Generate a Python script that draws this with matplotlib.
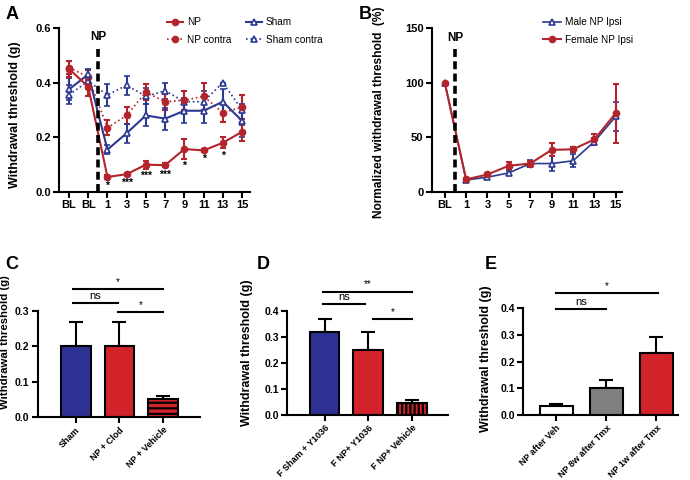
import matplotlib
matplotlib.use('Agg')
import matplotlib.pyplot as plt
from matplotlib.lines import Line2D
import numpy as np

plt.rcParams['font.family'] = ['Liberation Sans', 'DejaVu Sans']
plt.rcParams['font.weight'] = 'bold'
plt.rcParams['hatch.linewidth'] = 1.6

RED = '#B3242C'
BLUE = '#2B3990'
BAR_BLUE = '#2E3192'
BAR_RED = '#D2232A'
GRAY = '#7F7F7F'

# ---- Panel A data ----
a_labels = ['BL', 'BL', '1', '3', '5', '7', '9', '11', '13', '15']
np_mean = [0.45, 0.385, 0.055, 0.065, 0.100, 0.098, 0.157, 0.152, 0.180, 0.220]
np_err = [0.030, 0.035, 0.006, 0.005, 0.015, 0.008, 0.035, 0.006, 0.020, 0.035]
np_contra_mean = [0.455, 0.420, 0.235, 0.280, 0.365, 0.330, 0.335, 0.350, 0.290, 0.310]
np_contra_err = [0.025, 0.025, 0.028, 0.030, 0.030, 0.030, 0.035, 0.050, 0.035, 0.045]
sham_mean = [0.375, 0.430, 0.155, 0.215, 0.280, 0.268, 0.297, 0.297, 0.330, 0.260]
sham_err = [0.040, 0.020, 0.015, 0.035, 0.040, 0.040, 0.045, 0.045, 0.045, 0.060]
sham_contra_mean = [0.355, 0.405, 0.355, 0.390, 0.350, 0.370, 0.330, 0.330, 0.400, 0.300]
sham_contra_err = [0.035, 0.020, 0.040, 0.035, 0.030, 0.030, 0.040, 0.040, 0.000, 0.055]
a_stars = ['', '', '*', '***', '***', '***', '*', '*', '*', '']

# ---- Panel B data ----
b_labels = ['BL', '1', '3', '5', '7', '9', '11', '13', '15']
male_mean = [100, 11, 13.5, 17.5, 26, 26, 28.5, 46, 69]
male_err = [0, 1, 1.5, 2, 3, 7, 6, 3, 13]
female_mean = [100, 11.5, 16, 24, 26, 38.5, 39, 48, 72]
female_err = [0, 1, 1.5, 3, 2, 6, 2.5, 5, 27]

# ---- Panel C/D/E data ----
c_labels = ['Sham', 'NP + Clod', 'NP + Vehicle']
c_mean = [0.200, 0.200, 0.050]
c_err = [0.070, 0.070, 0.010]
d_labels = ['F Sham + Y1036', 'F NP+ Y1036', 'F NP+ Vehicle']
d_mean = [0.320, 0.250, 0.048]
d_err = [0.050, 0.070, 0.010]
e_labels = ['NP after Veh', 'NP 8w after Tmx', 'NP 1w after Tmx']
e_mean = [0.035, 0.100, 0.233]
e_err = [0.008, 0.030, 0.060]

fig = plt.figure(figsize=(6.9, 4.8), dpi=100)


def prism(ax):
    for s in ['top', 'right']:
        ax.spines[s].set_visible(False)
    for s in ['left', 'bottom']:
        ax.spines[s].set_linewidth(1.5)
    ax.tick_params(width=1.5, length=4, labelsize=8, pad=2)
    for t in ax.get_xticklabels() + ax.get_yticklabels():
        t.set_fontweight('bold')


def np_marker(ax, x, ytop, ytext):
    ax.plot([x, x], [0, ytop], color='black', lw=2.6, ls=(0, (2.2, 1.2)), zorder=5)
    ax.text(x, ytext, 'NP', ha='center', va='center', fontsize=8.5, fontweight='bold')


# ================= A =================
axA = fig.add_axes([0.0855, 0.600, 0.277, 0.342])
xa = np.arange(len(a_labels))
ek = dict(capsize=2.5, capthick=1.5, elinewidth=1.5)
axA.errorbar(xa, sham_contra_mean, yerr=sham_contra_err, color=BLUE, ls=':', lw=1.2,
             marker='^', ms=4.5, mfc='white', mec=BLUE, mew=1.2, **ek)
axA.errorbar(xa, np_contra_mean, yerr=np_contra_err, color=RED, ls=':', lw=1.2,
             marker='o', ms=4.5, **ek)
axA.errorbar(xa, sham_mean, yerr=sham_err, color=BLUE, ls='-', lw=1.5,
             marker='^', ms=4.5, mfc='white', mec=BLUE, mew=1.2, **ek)
axA.errorbar(xa, np_mean, yerr=np_err, color=RED, ls='-', lw=1.5,
             marker='o', ms=4.5, **ek)
for x, m, e, s in zip(xa, np_mean, np_err, a_stars):
    if s:
        axA.text(x, m - e - 0.008, s, ha='center', va='top', fontsize=7.5, fontweight='bold')
axA.set_xlim(-0.52, 9.42)
axA.set_ylim(0, 0.6)
axA.set_yticks([0.0, 0.2, 0.4, 0.6])
axA.set_yticklabels(['0.0', '0.2', '0.4', '0.6'])
axA.set_xticks(xa)
axA.set_xticklabels(a_labels)
axA.set_ylabel('Withdrawal threshold (g)', fontsize=9, fontweight='bold')
axA.yaxis.set_label_coords(-0.2, 0.47)
np_marker(axA, 1.5, 0.527, 0.567)
prism(axA)
h = [Line2D([], [], color=RED, lw=1.5, marker='o', ms=4.5),
     Line2D([], [], color=RED, lw=1.2, ls=':', marker='o', ms=4.5),
     Line2D([], [], color=BLUE, lw=1.5, marker='^', ms=4.5, mfc='white', mew=1.2),
     Line2D([], [], color=BLUE, lw=1.2, ls=':', marker='^', ms=4.5, mfc='white', mew=1.2)]
leg = axA.legend(h, ['NP', 'NP contra', 'Sham', 'Sham contra'], ncol=2, frameon=False,
                 loc='upper left', bbox_to_anchor=(0.52, 1.12), fontsize=7.2,
                 handlelength=1.6, columnspacing=1.4, labelspacing=0.75, handletextpad=0.4)
for t in leg.get_texts():
    t.set_fontweight('normal')

# ================= B =================
axB = fig.add_axes([0.626, 0.600, 0.275, 0.342])
xb = np.arange(len(b_labels))
axB.errorbar(xb, male_mean, yerr=male_err, color=BLUE, ls='-', lw=1.2,
             marker='^', ms=4, mfc='white', mec=BLUE, mew=1.2, **ek)
axB.errorbar(xb, female_mean, yerr=female_err, color=RED, ls='-', lw=1.5,
             marker='o', ms=4.5, **ek)
axB.set_xlim(-0.6, 8.28)
axB.set_ylim(0, 150)
axB.set_yticks([0, 50, 100, 150])
axB.set_xticks(xb)
axB.set_xticklabels(b_labels)
axB.set_ylabel('Normalized withdrawal threshold  (%)', fontsize=8.6, fontweight='bold')
axB.yaxis.set_label_coords(-0.245, 0.485)
np_marker(axB, 0.5, 131, 141)
prism(axB)
hb = [Line2D([], [], color=BLUE, lw=1.2, marker='^', ms=4, mfc='white', mew=1.2),
      Line2D([], [], color=RED, lw=1.5, marker='o', ms=4.5)]
legB = axB.legend(hb, ['Male NP Ipsi', 'Female NP Ipsi'], frameon=False, loc='upper left',
                  bbox_to_anchor=(0.54, 1.12), fontsize=7.2, handlelength=1.8,
                  labelspacing=0.75, handletextpad=0.4)
for t in legB.get_texts():
    t.set_fontweight('normal')


# ================= bars =================
def bar_panel(rect, labels, means, errs, colors, hatches, ylim, yticks, width, sigs,
              label_xy, label_size):
    ax = fig.add_axes(rect)
    x = np.arange(len(labels))
    for i in range(len(labels)):
        ax.bar(x[i], means[i], width=width, color=colors[i], edgecolor='black',
               linewidth=1.5, hatch=hatches[i], zorder=2)
        ax.errorbar(x[i], means[i], yerr=[[0], [errs[i]]], color='black',
                    capsize=5, capthick=1.5, elinewidth=1.5, zorder=1)
    ax.set_ylim(0, ylim)
    ax.set_yticks(yticks)
    ax.set_yticklabels(['%.1f' % v for v in yticks])
    ax.set_xticks(x)
    ax.set_xticklabels(labels, rotation=45, ha='right', rotation_mode='anchor')
    ax.set_ylabel('Withdrawal threshold (g)', fontsize=label_size, fontweight='bold')
    ax.yaxis.set_label_coords(*label_xy)
    prism(ax)
    ax.tick_params(axis='x', labelsize=6.5)
    ax.tick_params(axis='y', labelsize=7.5)
    for x0, x1, y, txt in sigs:
        ax.plot([x0, x1], [y, y], color='black', lw=1.5, clip_on=False)
        ax.text((x0 + x1) / 2, y + ylim * 0.02, txt, ha='center', va='bottom',
                fontsize=8 if txt == 'ns' else 7, fontweight='normal')
    return ax


axC = bar_panel([0.055, 0.131, 0.235, 0.221], c_labels, c_mean, c_err,
                [BAR_BLUE, BAR_RED, BAR_RED], [None, None, '---'], 0.3,
                [0.0, 0.1, 0.2, 0.3], 0.68,
                [(-0.07, 2.0, 0.362, '*'), (-0.07, 0.97, 0.323, 'ns'), (0.97, 2.0, 0.297, '*')],
                (-0.17, 0.71), 8.2)
axC.set_xlim(-0.86, 2.84)

axD = bar_panel([0.416, 0.135, 0.233, 0.217], d_labels, d_mean, d_err,
                [BAR_BLUE, BAR_RED, BAR_RED], [None, None, '||||'], 0.4,
                [0.0, 0.1, 0.2, 0.3, 0.4], 0.68,
                [(-0.03, 2.0, 0.475, '**'), (-0.03, 0.93, 0.426, 'ns'), (1.1, 2.0, 0.37, '*')],
                (-0.21, 0.6), 9)
axD.set_xlim(-0.86, 2.82)

axE = bar_panel([0.758, 0.135, 0.225, 0.223], e_labels, e_mean, e_err,
                ['white', GRAY, BAR_RED], [None, None, None], 0.4,
                [0.0, 0.1, 0.2, 0.3, 0.4], 0.66,
                [(0.0, 2.04, 0.455, '*'), (0.0, 1.0, 0.397, 'ns')],
                (-0.2, 0.53), 9)
axE.set_xlim(-0.66, 2.44)

# panel letters
for lab, x, y in [('A', 0.008, 0.97), ('B', 0.52, 0.97), ('C', 0.007, 0.448),
                  ('D', 0.372, 0.448), ('E', 0.703, 0.448)]:
    fig.text(x, y, lab, fontsize=13, fontweight='bold', va='center', ha='left')

fig.savefig('out.png', dpi=100)
